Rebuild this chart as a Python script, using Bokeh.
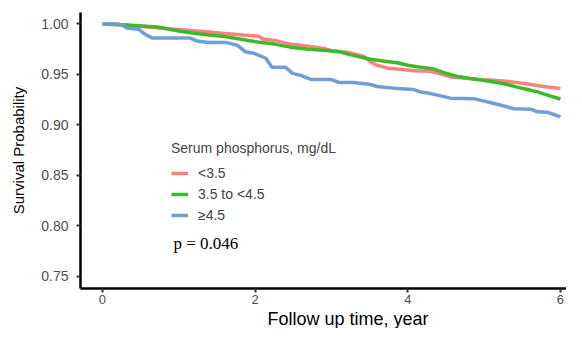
from bokeh.plotting import figure
from bokeh.models import Legend, LegendItem, Label, Title, FixedTicker, NumeralTickFormatter, Range1d
from bokeh.embed import file_html
from bokeh.resources import INLINE

# Kaplan-Meier curves
t_low = [0, 0.3, 0.6, 0.9, 1.15, 1.4, 1.6, 1.85, 2.03, 2.11, 2.3, 2.46, 2.7, 2.9, 3.0, 3.2, 3.42, 3.53, 3.6, 3.75, 3.9, 4.08, 4.3, 4.45, 4.56, 4.95, 5.26, 5.52, 5.78, 6.0]
s_low = [1.0, 0.999, 0.997, 0.995, 0.9934, 0.992, 0.9906, 0.989, 0.988, 0.985, 0.983, 0.980, 0.978, 0.9756, 0.9735, 0.972, 0.968, 0.9615, 0.959, 0.956, 0.955, 0.9537, 0.953, 0.950, 0.9475, 0.945, 0.9434, 0.941, 0.938, 0.936]

t_mid = [0, 0.3, 0.72, 1.0, 1.15, 1.4, 1.59, 1.8, 2.03, 2.25, 2.46, 2.7, 2.9, 3.1, 3.25, 3.51, 3.7, 3.86, 4.0, 4.12, 4.34, 4.52, 4.65, 4.82, 5.0, 5.17, 5.3, 5.43, 5.57, 5.7, 5.85, 6.0]
s_mid = [1.0, 0.999, 0.9969, 0.993, 0.9912, 0.989, 0.9875, 0.985, 0.982, 0.980, 0.977, 0.975, 0.974, 0.9725, 0.9693, 0.965, 0.963, 0.9615, 0.959, 0.9575, 0.9553, 0.9506, 0.948, 0.946, 0.944, 0.942, 0.940, 0.9374, 0.935, 0.9327, 0.929, 0.9256]

t_high = [0, 0.2, 0.26, 0.32, 0.48, 0.56, 0.65, 1.15, 1.24, 1.39, 1.63, 1.77, 1.87, 1.98, 2.14, 2.22, 2.4, 2.49, 2.6, 2.73, 2.99, 3.1, 3.3, 3.51, 3.6, 3.86, 4.08, 4.17, 4.3, 4.43, 4.56, 4.86, 5.09, 5.26, 5.39, 5.61, 5.7, 5.83, 6.0]
s_high = [1.0, 1.0, 0.9988, 0.996, 0.9944, 0.9897, 0.986, 0.986, 0.983, 0.9815, 0.9815, 0.9787, 0.9725, 0.971, 0.966, 0.957, 0.957, 0.951, 0.949, 0.945, 0.945, 0.942, 0.942, 0.940, 0.938, 0.936, 0.935, 0.9325, 0.931, 0.9287, 0.9265, 0.926, 0.922, 0.9187, 0.916, 0.9156, 0.913, 0.9125, 0.908]

group_labels = ["<3.5", "3.5 to <4.5", "\u22654.5"]
colors = ["#F8837D", "#3DB82A", "#729ED8"]
x_ticks = [0, 2, 4, 6]
y_ticks = [0.75, 0.80, 0.85, 0.90, 0.95, 1.00]
p_text = "p = 0.046"
legend_title = "Serum phosphorus, mg/dL"
x_title = "Follow up time, year"
y_title = "Survival Probability"

p = figure(width=566, height=328, output_backend="svg", toolbar_location=None,
           x_range=Range1d(-0.288, 6.079), y_range=Range1d(0.738, 1.0113),
           min_border_left=80, min_border_right=0, min_border_top=12, min_border_bottom=0)
p.outline_line_color = None
p.xgrid.visible = False
p.ygrid.visible = False
p.background_fill_color = "white"

renderers = []
for t, s, c in zip([t_low, t_mid, t_high], [s_low, s_mid, s_high], colors):
    r = p.line(t, s, line_color=c, line_width=3.5)
    renderers.append(r)

items = [LegendItem(label=lab, renderers=[r]) for lab, r in zip(group_labels, renderers)]
legend = Legend(items=items, title=legend_title, location=(91, 64),
                background_fill_alpha=0, border_line_alpha=0, padding=0, margin=0,
                label_text_font="Liberation Sans", label_text_font_size="14px",
                title_text_font="Liberation Sans", title_text_font_size="14px",
                title_text_font_style="normal", title_standoff=8,
                glyph_width=17, glyph_height=18, label_height=18, label_standoff=10, spacing=3)
p.add_layout(legend, "center")

p.add_layout(Label(x=93, y=36, x_units="screen", y_units="screen", text=p_text,
                   text_font="Liberation Serif", text_font_size="17px", text_color="black"))

p.add_layout(Title(text=x_title, align="left", offset=187, standoff=0,
                   text_font="Liberation Sans", text_font_size="18px",
                   text_font_style="normal", text_color="black"), "below")

for ax in (p.xaxis[0], p.yaxis[0]):
    ax.axis_line_width = 2.5
    ax.axis_line_color = "black"
    ax.major_tick_line_width = 2
    ax.major_tick_line_color = "#333333"
    ax.major_tick_out = 4
    ax.major_tick_in = 0
    ax.minor_tick_line_color = None
    ax.major_label_text_color = "#4d4d4d"
    ax.major_label_text_font = "Liberation Sans"
    ax.axis_label_text_font = "Liberation Sans"
    ax.axis_label_text_font_style = "normal"
    ax.axis_label_text_color = "black"

p.xaxis.ticker = FixedTicker(ticks=x_ticks)
p.xaxis.major_label_text_font_size = "13px"
p.xaxis.major_label_standoff = 2

p.yaxis.ticker = FixedTicker(ticks=y_ticks)
p.yaxis.formatter = NumeralTickFormatter(format="0.00")
p.yaxis.major_label_text_font_size = "14px"
p.yaxis.major_label_standoff = 8
p.yaxis.axis_label = y_title
p.yaxis.axis_label_text_font_size = "15px"
p.yaxis.axis_label_standoff = 11

open("out.html", "w").write(file_html(p, INLINE))
